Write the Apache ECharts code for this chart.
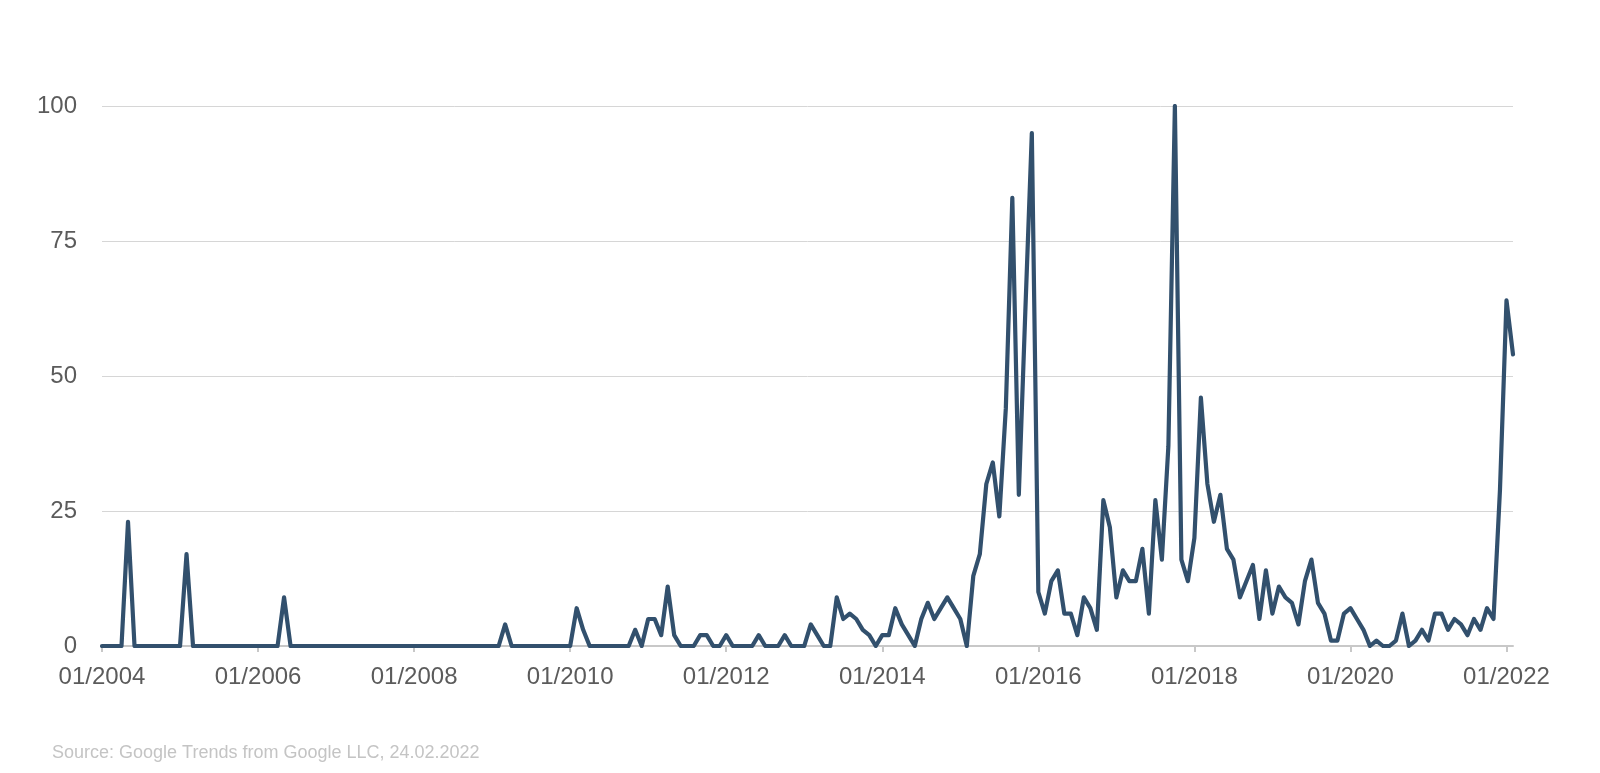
<!DOCTYPE html>
<html>
<head>
<meta charset="utf-8">
<script src="https://cdn.jsdelivr.net/npm/echarts@6/dist/echarts.min.js"></script>
<style>
  html, body { margin: 0; padding: 0; background: #ffffff; }
  #chart { width: 1600px; height: 773px; }
</style>
</head>
<body>
<div id="chart"></div>
<script>
// Monthly Google Trends index, Jan 2004 – Feb 2022
const startYear = 2004;
const v2004 = [0, 0, 0, 0, 23, 0, 0, 0, 0, 0, 0, 0];
const v2005 = [0, 17, 0, 0, 0, 0, 0, 0, 0, 0, 0, 0];
const v2006 = [0, 0, 0, 0, 9, 0, 0, 0, 0, 0, 0, 0];
const v2007 = [0, 0, 0, 0, 0, 0, 0, 0, 0, 0, 0, 0];
const v2008 = [0, 0, 0, 0, 0, 0, 0, 0, 0, 0, 0, 0];
const v2009 = [0, 0, 4, 0, 0, 0, 0, 0, 0, 0, 0, 0];
const v2010 = [0, 7, 3, 0, 0, 0, 0, 0, 0, 0, 3, 0];
const v2011 = [5, 5, 2, 11, 2, 0, 0, 0, 2, 2, 0, 0];
const v2012 = [2, 0, 0, 0, 0, 2, 0, 0, 0, 2, 0, 0];
const v2013 = [0, 4, 2, 0, 0, 9, 5, 6, 5, 3, 2, 0];
const v2014 = [2, 2, 7, 4, 2, 0, 5, 8, 5, 7, 9, 7];
const v2015 = [5, 0, 13, 17, 30, 34, 24, 44, 83, 28, 62, 95];
const v2016 = [10, 6, 12, 14, 6, 6, 2, 9, 7, 3, 27, 22];
const v2017 = [9, 14, 12, 12, 18, 6, 27, 16, 37, 100, 16, 12];
const v2018 = [20, 46, 30, 23, 28, 18, 16, 9, 12, 15, 5, 14];
const v2019 = [6, 11, 9, 8, 4, 12, 16, 8, 6, 1, 1, 6];
const v2020 = [7, 5, 3, 0, 1, 0, 0, 1, 6, 0, 1, 3];
const v2021 = [1, 6, 6, 3, 5, 4, 2, 5, 3, 7, 5, 29];
const v2022 = [64, 54];

const yTicks = [0, 25, 50, 75, 100];
const sourceText = 'Source: Google Trends from Google LLC, 24.02.2022';

const values = [].concat(v2004, v2005, v2006, v2007, v2008, v2009, v2010, v2011,
  v2012, v2013, v2014, v2015, v2016, v2017, v2018, v2019, v2020, v2021, v2022);

const categories = values.map(function (_, i) {
  const m = (i % 12) + 1;
  const y = startYear + Math.floor(i / 12);
  return (m < 10 ? '0' + m : '' + m) + '/' + y;
});

const FONT = '"Liberation Sans", Arial, Helvetica, sans-serif';
const chart = echarts.init(document.getElementById('chart'), null, { renderer: 'canvas' });
chart.setOption({
  animation: false,
  backgroundColor: '#ffffff',
  grid: { left: 102, right: 87, top: 106, bottom: 127, containLabel: false },
  xAxis: {
    type: 'category',
    data: categories,
    boundaryGap: false,
    axisLine: { show: true, lineStyle: { color: '#c8c8c8', width: 2 } },
    axisTick: { show: true, interval: 23, length: 6, lineStyle: { color: '#c8c8c8', width: 2 } },
    axisLabel: {
      interval: 23,
      fontFamily: FONT,
      fontSize: 24,
      color: '#5b5b5b',
      margin: 19
    },
    splitLine: { show: false }
  },
  yAxis: {
    type: 'value',
    min: yTicks[0],
    max: yTicks[yTicks.length - 1],
    interval: 25,
    axisLine: { show: false },
    axisTick: { show: false },
    axisLabel: {
      fontFamily: FONT,
      fontSize: 24,
      color: '#5b5b5b',
      margin: 25
    },
    splitLine: { show: true, lineStyle: { color: '#d6d6d6', width: 1 } }
  },
  series: [{
    type: 'line',
    data: values,
    showSymbol: false,
    smooth: false,
    lineStyle: { color: '#32506d', width: 4.2, join: 'round', cap: 'round' },
    itemStyle: { color: '#32506d' },
    z: 5
  }],
  graphic: [{
    type: 'text',
    left: 52,
    top: 744,
    style: {
      text: sourceText,
      fontFamily: FONT,
      fontSize: 18,
      fill: '#c4c4c4'
    }
  }]
});
</script>
</body>
</html>
